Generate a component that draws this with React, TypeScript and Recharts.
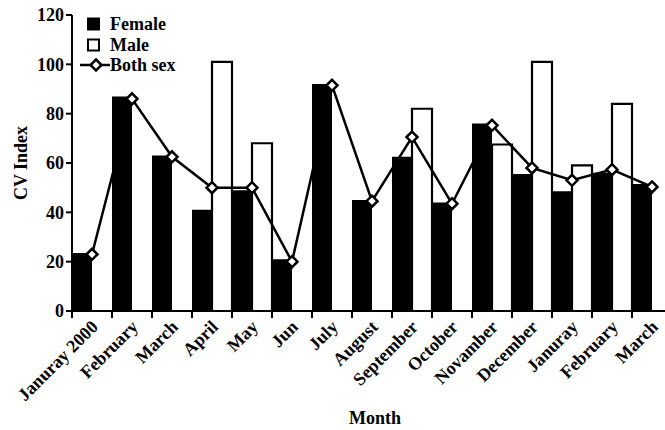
import { ComposedChart, Bar, Line, XAxis, YAxis } from 'recharts';

const months = [
  'Januray 2000', 'February', 'March', 'April', 'May', 'Jun', 'July', 'August',
  'September', 'October', 'Novamber', 'December', 'Januray', 'February', 'March',
];
const female = [23.5, 87, 63, 41, 49, 21, 92, 45, 62.5, 44, 76, 55.5, 48.5, 56, 51.5];
const male = [null, null, null, 101, 68, null, null, null, 82, null, 67.5, 101, 59, 84, null];
const bothSex = [23, 86, 62.5, 50, 50, 20, 91.5, 44.5, 70.5, 43.5, 75.3, 58, 53, 57.3, 50.3];
const yTicks = [0, 20, 40, 60, 80, 100, 120];
const legendItems = [
  { key: 'female', label: 'Female' },
  { key: 'male', label: 'Male' },
  { key: 'both', label: 'Both sex' },
];

const chartData = months.map((month, i) => ({
  month,
  female: female[i],
  male: male[i],
  both: bothSex[i],
}));

const FONT = '"Liberation Serif", "Times New Roman", serif';
const HALF_BAND = 20;
const textStyle = { fontFamily: FONT, fontSize: 18, fontWeight: 'bold' as const, fill: '#000' };

function Diamond({ cx, cy }: { cx?: number; cy?: number }) {
  if (cx == null || cy == null) return null;
  const r = 5.5;
  return (
    <path
      d={`M${cx},${cy - r}L${cx + r},${cy}L${cx},${cy + r}L${cx - r},${cy}Z`}
      fill="#fff"
      stroke="#000"
      strokeWidth={2.5}
    />
  );
}

function MonthTick({ x, y, payload }: any) {
  const ax = x + 7;
  const ay = y + 17;
  return (
    <g>
      <line x1={x - HALF_BAND} x2={x - HALF_BAND} y1={y} y2={y + 7} stroke="#000" strokeWidth={2} />
      <text x={ax} y={ay} transform={`rotate(-45 ${ax} ${ay})`} textAnchor="end" style={textStyle}>
        {payload.value}
      </text>
    </g>
  );
}

function LegendIcon({ kind }: { kind: string }) {
  if (kind === 'both') {
    return (
      <svg width={30} height={20}>
        <line x1={0} x2={30} y1={10} y2={10} stroke="#000" strokeWidth={2.5} />
        <Diamond cx={16} cy={10} />
      </svg>
    );
  }
  const filled = kind === 'female';
  return (
    <svg width={30} height={20}>
      <rect
        x={filled ? 7 : 8}
        y={filled ? 3.5 : 4.5}
        width={filled ? 13 : 11}
        height={filled ? 13 : 11}
        fill={filled ? '#000' : '#fff'}
        stroke="#000"
        strokeWidth={filled ? 0 : 2}
      />
    </svg>
  );
}

export default function App() {
  return (
    <div style={{ position: 'absolute', left: 0, top: 0, width: 665, height: 430, overflow: 'hidden', background: '#fff' }}>
      <ComposedChart
        width={680}
        height={430}
        data={chartData}
        margin={{ top: 15, right: 8, left: 0, bottom: 0 }}
        barCategoryGap={0}
        barGap={0}
        style={{ fontFamily: FONT }}
      >
        <XAxis
          dataKey="month"
          height={119}
          interval={0}
          axisLine={{ stroke: '#000', strokeWidth: 2 }}
          tickLine={false}
          tickSize={0}
          tickMargin={0}
          tick={<MonthTick />}
          label={{
            value: 'Month',
            content: (p: any) => (
              <text x={375} y={424} textAnchor="middle" style={textStyle}>
                {p.value}
              </text>
            ),
          }}
        />
        <YAxis
          width={72}
          domain={[0, 120]}
          ticks={yTicks}
          interval={0}
          axisLine={{ stroke: '#000', strokeWidth: 2 }}
          tickLine={{ stroke: '#000', strokeWidth: 2 }}
          tickSize={6}
          tickMargin={2}
          tick={textStyle}
          label={{
            value: 'CV Index',
            content: (p: any) => (
              <text
                x={21}
                y={163}
                transform="rotate(-90 21 163)"
                textAnchor="middle"
                dominantBaseline="central"
                style={textStyle}
              >
                {p.value}
              </text>
            ),
          }}
        />
        <Bar dataKey="female" name="Female" fill="#000" isAnimationActive={false} />
        <Bar dataKey="male" name="Male" fill="#fff" stroke="#000" strokeWidth={2.2} isAnimationActive={false} />
        <Line
          dataKey="both"
          name="Both sex"
          type="linear"
          stroke="#000"
          strokeWidth={2.5}
          dot={<Diamond />}
          activeDot={false}
          isAnimationActive={false}
        />
      </ComposedChart>
      <div
        style={{
          position: 'absolute',
          left: 80,
          top: 14,
          fontFamily: FONT,
          fontSize: 18,
          fontWeight: 'bold',
          color: '#000',
        }}
      >
        {legendItems.map((item) => (
          <div key={item.key} style={{ display: 'flex', alignItems: 'center', height: 20.5 }}>
            <LegendIcon kind={item.key} />
            <span style={{ lineHeight: '20px' }}>{item.label}</span>
          </div>
        ))}
      </div>
    </div>
  );
}
